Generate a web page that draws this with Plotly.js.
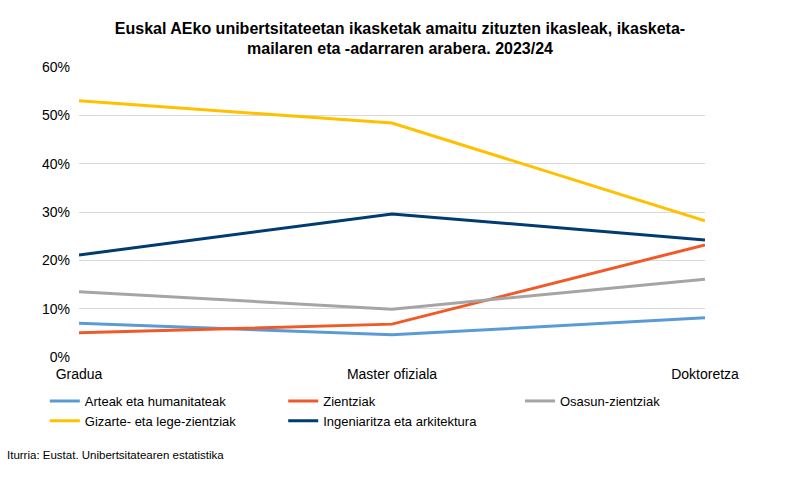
<!DOCTYPE html>
<html>
<head>
<meta charset="utf-8">
<script src="https://cdn.plot.ly/plotly-3.0.1.min.js"></script>
<style>html,body{margin:0;padding:0;background:#fff;}#chart{width:800px;height:487px;}</style>
</head>
<body>
<div id="chart"></div>
<script>
const categories = ["Gradua", "Master ofiziala", "Doktoretza"];
const seriesNames = ["Arteak eta humanitateak", "Zientziak", "Osasun-zientziak", "Gizarte- eta lege-zientziak", "Ingeniaritza eta arkitektura"];
const arteak = [0.070, 0.046, 0.081];
const zientziak = [0.050, 0.068, 0.232];
const osasun = [0.135, 0.099, 0.161];
const gizarte = [0.530, 0.484, 0.282];
const ingeniaritza = [0.211, 0.296, 0.242];
const seriesValues = [arteak, zientziak, osasun, gizarte, ingeniaritza];
const colors = ["#5B9BD5", "#F05A28", "#A5A5A5", "#FFC000", "#003B71"];
const legendColumn = ["legend", "legend2", "legend3", "legend", "legend2"];
const yTickVals = [0, 0.1, 0.2, 0.3, 0.4, 0.5, 0.6];
const yTickText = ["0%", "10%", "20%", "30%", "40%", "50%", "60%"];

const traces = seriesValues.map((v, i) => ({
  x: categories, y: v, name: seriesNames[i], type: "scatter", mode: "lines",
  line: {color: colors[i], width: 3}, legend: legendColumn[i]
}));

const legendBase = {
  orientation: "v", xref: "container", xanchor: "left",
  y: 0.2074, yref: "container", yanchor: "top",
  font: {size: 13}, traceorder: "normal", tracegroupgap: 0
};

const layout = {
  width: 800, height: 487,
  margin: {l: 79, r: 95, t: 67, b: 130, autoexpand: false},
  paper_bgcolor: "#fff", plot_bgcolor: "#fff",
  font: {family: "Liberation Sans, Arial, sans-serif", size: 13, color: "#000"},
  title: {
    text: "<b>Euskal AEko unibertsitateetan ikasketak amaitu zituzten ikasleak, ikasketa-<br>mailaren eta -adarraren arabera. 2023/24</b>",
    font: {size: 16, color: "#000"}, x: 0.5, xanchor: "center", y: 0.931, yanchor: "top"
  },
  xaxis: {
    type: "category", range: [0, 2], showgrid: false, zeroline: false, showline: false,
    ticks: "", tickfont: {size: 14}, ticklabelstandoff: 7, fixedrange: true, tickangle: 0
  },
  yaxis: {
    range: [0, 0.6], tickvals: yTickVals, ticktext: yTickText, showgrid: true,
    gridcolor: "#D9D9D9", gridwidth: 1, zeroline: false, showline: false, ticks: "",
    tickfont: {size: 14}, ticklabelstandoff: 8
  },
  showlegend: true,
  legend: Object.assign({}, legendBase, {x: 0.056}),
  legend2: Object.assign({}, legendBase, {x: 0.354}),
  legend3: Object.assign({}, legendBase, {x: 0.650}),
  annotations: [{
    text: "Iturria: Eustat. Unibertsitatearen estatistika", xref: "paper", yref: "paper",
    x: -74/626, y: -98/290, xanchor: "left", yanchor: "middle", showarrow: false,
    font: {size: 11.5, color: "#000"}
  }]
};

Plotly.newPlot("chart", traces, layout, {displayModeBar: false, staticPlot: true});
</script>
</body>
</html>
